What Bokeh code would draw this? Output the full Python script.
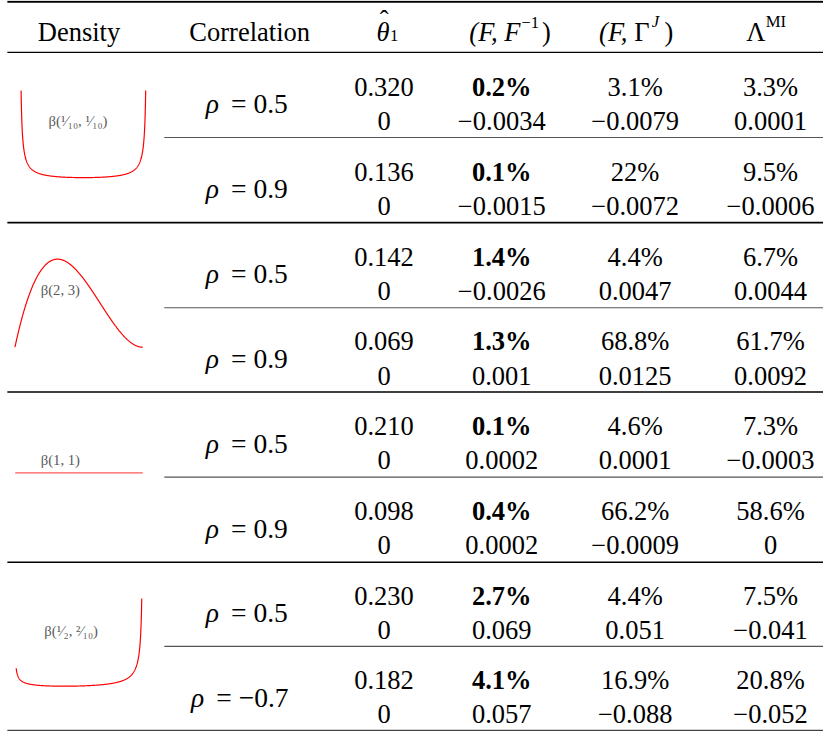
import math
import numpy as np
from bokeh.plotting import figure
from bokeh.models import Range1d
from bokeh.core.properties import value
from bokeh.embed import file_html
from bokeh.resources import INLINE

# ---------------- data ----------------
header_plain = ["Density", "Correlation"]
density_labels = ["β(¹⁄₁₀, ¹⁄₁₀)", "β(2, 3)", "β(1, 1)", "β(¹⁄₂, ²⁄₁₀)"]
beta_a = [0.1, 2.0, 1.0, 0.5]
beta_b = [0.1, 3.0, 1.0, 0.2]
rho = ["0.5", "0.9", "0.5", "0.9", "0.5", "0.9", "0.5", "−0.7"]
theta1 = ["0.320", "0.136", "0.142", "0.069", "0.210", "0.098", "0.230", "0.182"]
theta1_bias = ["0", "0", "0", "0", "0", "0", "0", "0"]
ff_pct = ["0.2%", "0.1%", "1.4%", "1.3%", "0.1%", "0.4%", "2.7%", "4.1%"]
ff_bias = ["−0.0034", "−0.0015", "−0.0026", "0.001", "0.0002", "0.0002", "0.069", "0.057"]
fg_pct = ["3.1%", "22%", "4.4%", "68.8%", "4.6%", "66.2%", "4.4%", "16.9%"]
fg_bias = ["−0.0079", "−0.0072", "0.0047", "0.0125", "0.0001", "−0.0009", "0.051", "−0.088"]
mi_pct = ["3.3%", "9.5%", "6.7%", "61.7%", "7.3%", "58.6%", "7.5%", "20.8%"]
mi_bias = ["0.0001", "−0.0006", "0.0044", "0.0092", "−0.0003", "0", "−0.041", "−0.052"]

# ---------------- layout (reference pixel space) ----------------
W_REF, H_REF = 839, 747
FIG_W, FIG_H = 823, 731
S = FIG_W / W_REF

def fs(px):
    return value(f"{px * S:.1f}px")

FONT = value("Liberation Serif")
col_x = [391, 511, 647, 785]
rules = [53, 140, 227, 314, 400, 487, 574, 660, 746]
centers = [(rules[i] + rules[i + 1]) / 2 for i in range(8)]

p = figure(width=FIG_W, height=FIG_H, x_range=Range1d(0, W_REF), y_range=Range1d(H_REF, 0),
           output_backend="svg", toolbar_location=None, min_border=0,
           x_axis_location=None, y_axis_location=None, outline_line_color=None,
           background_fill_color="white", border_fill_color="white")
p.xgrid.visible = False
p.ygrid.visible = False

def txt(x, y, s, size, align="center", style="normal", color="black"):
    p.text(x=[x], y=[y], text=[s], text_font=FONT, text_font_size=fs(size),
           text_font_style=style, text_align=align, text_baseline="alphabetic",
           text_color=color)

# rules
p.segment(x0=[7], x1=[839], y0=[1.2], y1=[1.2], line_color="black", line_width=2)
p.segment(x0=[7], x1=[839], y0=[53], y1=[53], line_color="black", line_width=1.3)
p.segment(x0=[7] * 3, x1=[839] * 3, y0=[227, 400, 574], y1=[227, 400, 574],
          line_color="black", line_width=1.6)
p.segment(x0=[167] * 4, x1=[839] * 4, y0=[140, 314, 487, 660], y1=[140, 314, 487, 660],
          line_color="#555555", line_width=1.2)
p.segment(x0=[7], x1=[839], y0=[746], y1=[746], line_color="#444444", line_width=1.3)

# headers
HB = 32
txt(80, HB, header_plain[0], 27)
txt(254, HB, header_plain[1], 27)
# theta-hat_1
txt(390, HB, "θ", 27, style="italic")
txt(391, HB - 12, "ˆ", 27)
txt(397, HB + 4, "1", 17, align="left")
# (F, F^-1)
txt(530, HB, "(F, F", 27, align="right", style="italic")
txt(531, HB - 10, "−1", 17, align="left")
txt(552, HB, ")", 27, align="left")
# (F, Gamma^J)
txt(639, HB, "(F,", 27, align="right", style="italic")
txt(646, HB, "Γ", 27, align="left")
txt(664, HB - 11, "J", 17, align="left", style="italic")
txt(677, HB, ")", 27, align="left")
# Lambda^MI
txt(770, HB, "Λ", 27)
txt(780, HB - 11, "MI", 17, align="left")

# density sparklines
boxes = [(21, 148, 92, 181, 0.01, 0.99),
         (14.7, 145, 264.3, 354.3, 0.0, 1.0),
         (15, 145, 482.7, 482.7, 1e-6, 1 - 1e-6),
         (16, 144, 611, 700.7, 0.01, 0.99)]
label_pos = [(79, 123), (61, 296), (61, 470), (72, 644)]

def beta_pdf(x, a, b):
    lb = math.lgamma(a) + math.lgamma(b) - math.lgamma(a + b)
    with np.errstate(divide="ignore", invalid="ignore"):
        lx = np.where(x > 0, np.log(np.maximum(x, 1e-300)), -np.inf)
        l1 = np.where(x < 1, np.log(np.maximum(1 - x, 1e-300)), -np.inf)
        t1 = np.where(a == 1, 0.0, (a - 1) * lx)
        t2 = np.where(b == 1, 0.0, (b - 1) * l1)
        return np.exp(t1 + t2 - lb)

for k in range(4):
    xl, xr, ytop, ybot, d0, d1 = boxes[k]
    xs = np.linspace(d0, d1, 600)
    f = beta_pdf(xs, beta_a[k], beta_b[k])
    fmin, fmax = f.min(), f.max()
    px = xl + (xs - d0) / (d1 - d0) * (xr - xl)
    if fmax - fmin < 1e-9:
        py = np.full_like(xs, ybot)
        p.line(px, py, line_color="red", line_width=1.2, line_alpha=0.65)
    else:
        py = ybot - (f - fmin) / (fmax - fmin) * (ybot - ytop)
        p.line(px, py, line_color="red", line_width=1.2)
    lx_, ly_ = label_pos[k]
    txt(lx_, ly_, density_labels[k], 15, color="#5a5a5a")

# body rows
off = 17.5
asc = 8.9
for i in range(8):
    c = centers[i]
    neg = rho[i].startswith("−")
    rx = 201 if neg else 216
    txt(rx, c + asc, "ρ", 28, style="italic")
    txt(rx + 19, c + asc, "= " + rho[i], 28, align="left")
    top_vals = [theta1[i], ff_pct[i], fg_pct[i], mi_pct[i]]
    bot_vals = [theta1_bias[i], ff_bias[i], fg_bias[i], mi_bias[i]]
    for j in range(4):
        txt(col_x[j], c - off + asc, top_vals[j], 27, style="bold" if j == 1 else "normal")
        txt(col_x[j], c + off + asc, bot_vals[j], 27)

open("out.html", "w").write(file_html(p, INLINE))
